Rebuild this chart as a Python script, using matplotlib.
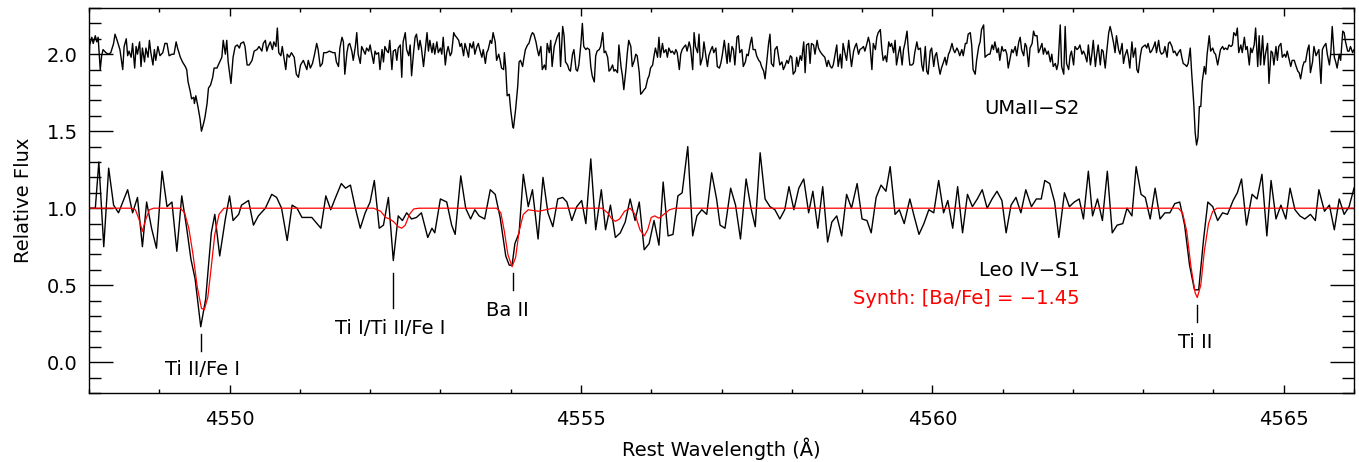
import numpy as np
import matplotlib
matplotlib.use("Agg")
import matplotlib.pyplot as plt

plt.rcParams['font.family'] = ['DejaVu Sans']

# Leo IV-S1 observed spectrum (normalised)
leo_wl = [
    4548.00, 4548.09, 4548.14, 4548.21, 4548.28, 4548.35, 4548.42, 4548.55, 4548.62, 4548.69,
    4548.76, 4548.82, 4548.89, 4548.96, 4549.04, 4549.11, 4549.18, 4549.25, 4549.32, 4549.39,
    4549.45, 4549.51, 4549.59, 4549.66, 4549.74, 4549.79, 4549.86, 4549.94, 4550.00, 4550.05,
    4550.13, 4550.17, 4550.27, 4550.34, 4550.41, 4550.51, 4550.60, 4550.67, 4550.74, 4550.82,
    4550.89, 4550.96, 4551.03, 4551.17, 4551.30, 4551.37, 4551.44, 4551.50, 4551.59, 4551.65,
    4551.72, 4551.79, 4551.86, 4551.93, 4552.00, 4552.06, 4552.13, 4552.19, 4552.26, 4552.33,
    4552.40, 4552.46, 4552.52, 4552.59, 4552.66, 4552.73, 4552.82, 4552.88, 4552.92, 4553.00,
    4553.09, 4553.16, 4553.21, 4553.29, 4553.36, 4553.43, 4553.49, 4553.55, 4553.63, 4553.71,
    4553.78, 4553.85, 4553.93, 4553.98, 4554.02, 4554.06, 4554.12, 4554.18, 4554.25, 4554.31,
    4554.39, 4554.46, 4554.53, 4554.60, 4554.67, 4554.74, 4554.80, 4554.87, 4554.94, 4555.01,
    4555.07, 4555.14, 4555.21, 4555.29, 4555.35, 4555.42, 4555.49, 4555.56, 4555.63, 4555.70,
    4555.77, 4555.83, 4555.90, 4555.97, 4556.04, 4556.11, 4556.17, 4556.24, 4556.31, 4556.38,
    4556.44, 4556.52, 4556.59, 4556.65, 4556.72, 4556.79, 4556.86, 4556.93, 4556.98, 4557.05,
    4557.13, 4557.20, 4557.27, 4557.35, 4557.42, 4557.48, 4557.55, 4557.62, 4557.69, 4557.76,
    4557.83, 4557.90, 4557.96, 4558.03, 4558.10, 4558.17, 4558.24, 4558.30, 4558.37, 4558.44,
    4558.51, 4558.57, 4558.64, 4558.71, 4558.78, 4558.85, 4558.93, 4559.00, 4559.07, 4559.13,
    4559.20, 4559.27, 4559.34, 4559.40, 4559.47, 4559.53, 4559.60, 4559.68, 4559.74, 4559.81,
    4559.88, 4559.95, 4560.02, 4560.09, 4560.16, 4560.22, 4560.29, 4560.36, 4560.43, 4560.50,
    4560.57, 4560.64, 4560.71, 4560.78, 4560.85, 4560.92, 4560.99, 4561.05, 4561.12, 4561.19,
    4561.26, 4561.33, 4561.41, 4561.48, 4561.55, 4561.60, 4561.67, 4561.74, 4561.80, 4561.88,
    4561.95, 4562.02, 4562.09, 4562.15, 4562.22, 4562.28, 4562.35, 4562.42, 4562.49, 4562.56,
    4562.63, 4562.71, 4562.77, 4562.84, 4562.90, 4562.97, 4563.03, 4563.10, 4563.17, 4563.24,
    4563.31, 4563.38, 4563.45, 4563.52, 4563.59, 4563.66, 4563.73, 4563.79, 4563.86, 4563.92,
    4563.99, 4564.06, 4564.13, 4564.20, 4564.28, 4564.34, 4564.40, 4564.47, 4564.55, 4564.62,
    4564.69, 4564.76, 4564.82, 4564.89, 4564.96, 4565.03, 4565.09, 4565.16, 4565.23, 4565.30,
    4565.38, 4565.45, 4565.50, 4565.58, 4565.65, 4565.72, 4565.79, 4565.86, 4565.93, 4566.00]
leo_flux = [
    1.00, 1.00, 1.30, 0.75, 1.26, 1.02, 0.97, 1.12, 0.97, 1.07,
    0.75, 1.04, 0.87, 0.74, 1.24, 1.01, 1.04, 0.72, 1.08, 0.87,
    0.67, 0.54, 0.23, 0.41, 0.84, 0.96, 0.69, 0.93, 1.08, 0.92,
    0.96, 1.02, 1.05, 0.89, 0.95, 1.00, 1.09, 1.07, 1.00, 0.79,
    1.02, 1.00, 0.94, 0.94, 0.87, 1.08, 0.99, 1.06, 1.16, 1.13,
    1.15, 1.00, 0.87, 0.97, 1.04, 1.18, 0.87, 0.89, 1.07, 0.66,
    0.95, 0.92, 0.97, 0.93, 0.94, 0.97, 0.81, 0.87, 0.84, 1.06,
    1.04, 0.89, 0.83, 1.21, 1.00, 0.93, 0.99, 0.95, 0.93, 1.12,
    1.09, 0.94, 0.69, 0.63, 0.63, 0.77, 0.84, 1.22, 1.01, 1.12,
    0.80, 1.20, 0.97, 0.88, 1.06, 1.07, 1.04, 0.92, 1.01, 1.05,
    0.90, 1.32, 0.86, 1.12, 0.86, 1.02, 0.81, 0.84, 0.91, 1.06,
    0.92, 1.04, 0.73, 0.77, 0.92, 0.76, 1.17, 0.82, 0.83, 1.08,
    1.10, 1.40, 0.82, 0.95, 0.99, 0.96, 1.23, 1.06, 0.89, 0.87,
    1.13, 1.02, 0.80, 1.19, 1.00, 0.88, 1.36, 1.06, 1.01, 0.99,
    0.93, 0.99, 1.14, 0.99, 1.13, 1.19, 0.97, 1.11, 0.87, 1.14,
    0.78, 0.91, 0.95, 0.82, 1.09, 1.00, 1.16, 0.93, 0.92, 0.84,
    1.07, 1.15, 1.11, 1.27, 0.96, 0.99, 0.90, 1.06, 0.95, 0.83,
    0.90, 0.99, 0.97, 1.18, 0.97, 1.05, 0.87, 1.14, 0.84, 1.09,
    1.01, 1.06, 1.12, 1.00, 1.06, 1.11, 1.05, 0.84, 1.02, 1.07,
    0.97, 1.12, 1.01, 1.06, 1.06, 1.18, 1.16, 1.04, 0.81, 1.10,
    1.01, 1.04, 1.06, 0.93, 1.24, 0.95, 1.06, 0.92, 1.24, 0.84,
    0.89, 0.90, 1.00, 0.95, 1.27, 1.09, 1.07, 0.93, 1.13, 0.93,
    0.97, 0.97, 1.03, 1.04, 0.89, 0.63, 0.47, 0.47, 0.80, 1.04,
    1.01, 0.92, 0.97, 0.96, 1.05, 1.10, 1.19, 0.89, 1.09, 1.06,
    1.22, 0.82, 1.18, 0.93, 1.02, 0.93, 1.13, 0.99, 0.95, 0.93,
    0.96, 0.92, 1.12, 0.98, 1.02, 0.86, 1.06, 0.96, 1.01, 1.13]

# synthetic spectrum, [Ba/Fe] = -1.45
syn_wl = [
    4548.00, 4548.60, 4548.66, 4548.71, 4548.76, 4548.81, 4548.86, 4548.92,
    4549.30, 4549.36, 4549.42, 4549.48, 4549.54, 4549.60, 4549.64, 4549.69, 4549.74,
    4549.79, 4549.85, 4549.92,
    4552.05, 4552.15, 4552.22, 4552.28, 4552.34, 4552.40, 4552.45, 4552.50, 4552.56,
    4552.62, 4552.70,
    4553.80, 4553.86, 4553.91, 4553.96, 4554.02, 4554.07, 4554.12, 4554.18, 4554.25,
    4554.32, 4554.40, 4554.50, 4554.60,
    4555.30, 4555.38, 4555.44, 4555.49, 4555.55, 4555.62, 4555.70, 4555.77, 4555.84,
    4555.90, 4555.95, 4556.00, 4556.05, 4556.11, 4556.18, 4556.26, 4556.34,
    4563.50, 4563.56, 4563.62, 4563.68, 4563.74, 4563.77, 4563.82, 4563.87, 4563.93,
    4563.99, 4564.05, 4566.00]
syn_flux = [
    1.00, 1.00, 0.99, 0.93, 0.85, 0.93, 0.99, 1.00,
    1.00, 0.97, 0.87, 0.70, 0.49, 0.35, 0.34, 0.42, 0.62,
    0.83, 0.96, 1.00,
    1.00, 0.98, 0.94, 0.93, 0.91, 0.88, 0.87, 0.89, 0.96,
    0.995, 1.00,
    1.00, 0.97, 0.85, 0.70, 0.62, 0.68, 0.85, 0.96, 0.99,
    0.985, 0.98, 0.99, 1.00,
    1.00, 0.97, 0.93, 0.915, 0.93, 0.98, 1.00, 0.96, 0.86,
    0.82, 0.86, 0.94, 0.95, 0.935, 0.96, 0.99, 1.00,
    1.00, 0.97, 0.85, 0.62, 0.45, 0.42, 0.50, 0.72, 0.90,
    0.98, 1.00, 1.00]

# UMaII-S2 observed spectrum (normalised, drawn with an offset)
uma_wl = [
    4548.00, 4548.01, 4548.04, 4548.06, 4548.09, 4548.11, 4548.13, 4548.16, 4548.18, 4548.20,
    4548.24, 4548.28, 4548.31, 4548.35, 4548.37, 4548.40, 4548.44, 4548.48, 4548.50, 4548.53,
    4548.55, 4548.57, 4548.60, 4548.62, 4548.65, 4548.67, 4548.69, 4548.72, 4548.74, 4548.76,
    4548.79, 4548.81, 4548.84, 4548.86, 4548.88, 4548.91, 4548.93, 4548.95, 4548.98, 4549.01,
    4549.05, 4549.08, 4549.11, 4549.14, 4549.18, 4549.21, 4549.24, 4549.26, 4549.30, 4549.33,
    4549.37, 4549.39, 4549.41, 4549.44, 4549.46, 4549.49, 4549.50, 4549.52, 4549.55, 4549.58,
    4549.60, 4549.63, 4549.65, 4549.68, 4549.70, 4549.73, 4549.76, 4549.78, 4549.82, 4549.85,
    4549.89, 4549.91, 4549.94, 4549.96, 4549.98, 4550.02, 4550.05, 4550.08, 4550.11, 4550.14,
    4550.16, 4550.20, 4550.22, 4550.25, 4550.28, 4550.32, 4550.35, 4550.39, 4550.42, 4550.46,
    4550.48, 4550.51, 4550.53, 4550.55, 4550.58, 4550.61, 4550.63, 4550.66, 4550.68, 4550.70,
    4550.73, 4550.75, 4550.78, 4550.80, 4550.82, 4550.85, 4550.88, 4550.92, 4550.95, 4550.98,
    4551.01, 4551.05,
    4551.10, 4551.12, 4551.15, 4551.18, 4551.21, 4551.24, 4551.26, 4551.29, 4551.32, 4551.34,
    4551.38, 4551.42, 4551.47, 4551.50, 4551.52, 4551.55, 4551.57, 4551.60, 4551.62, 4551.64,
    4551.67, 4551.69, 4551.71, 4551.74, 4551.76, 4551.79, 4551.81, 4551.83, 4551.86, 4551.88,
    4551.90, 4551.93, 4551.95, 4551.98, 4552.00, 4552.02, 4552.05, 4552.07, 4552.09, 4552.12,
    4552.14, 4552.17, 4552.19, 4552.21, 4552.24, 4552.26, 4552.28, 4552.31, 4552.33, 4552.36,
    4552.38, 4552.40, 4552.43, 4552.45, 4552.47, 4552.50, 4552.52, 4552.55, 4552.57, 4552.59,
    4552.62, 4552.64, 4552.66, 4552.69, 4552.71, 4552.73, 4552.76, 4552.78, 4552.81, 4552.83,
    4552.85, 4552.88, 4552.90, 4552.92, 4552.95, 4552.97, 4553.00, 4553.02, 4553.04, 4553.07,
    4553.09, 4553.11, 4553.14, 4553.16, 4553.19, 4553.21, 4553.23, 4553.26, 4553.28, 4553.30,
    4553.33, 4553.35, 4553.38, 4553.40, 4553.42, 4553.45, 4553.47, 4553.49, 4553.52, 4553.54,
    4553.56, 4553.59, 4553.61, 4553.64, 4553.66, 4553.68, 4553.71, 4553.73, 4553.75, 4553.78,
    4553.80, 4553.83, 4553.85, 4553.87, 4553.90, 4553.91, 4553.93, 4553.95, 4553.98, 4554.00,
    4554.03, 4554.04,
    4554.07, 4554.10, 4554.12, 4554.14, 4554.17, 4554.19, 4554.21, 4554.24, 4554.26, 4554.29,
    4554.31, 4554.33, 4554.36, 4554.38, 4554.40, 4554.43, 4554.45, 4554.48, 4554.50, 4554.52,
    4554.55, 4554.57, 4554.59, 4554.62, 4554.64, 4554.66, 4554.69, 4554.71, 4554.74, 4554.76,
    4554.78, 4554.81, 4554.83, 4554.85, 4554.88, 4554.90, 4554.93, 4554.95, 4554.97, 4555.00,
    4555.02, 4555.04, 4555.07, 4555.09, 4555.12, 4555.14, 4555.16, 4555.19, 4555.21, 4555.23,
    4555.26, 4555.28, 4555.31, 4555.33, 4555.35, 4555.38, 4555.40, 4555.42, 4555.45, 4555.47,
    4555.49, 4555.52, 4555.54, 4555.57, 4555.59, 4555.61, 4555.64, 4555.66, 4555.68, 4555.71,
    4555.73, 4555.76, 4555.78, 4555.80, 4555.83, 4555.85, 4555.87, 4555.90, 4555.92, 4555.95,
    4555.97, 4555.99, 4556.02, 4556.04, 4556.06, 4556.09, 4556.11, 4556.13, 4556.16, 4556.18,
    4556.21, 4556.23, 4556.25, 4556.28, 4556.30, 4556.33, 4556.35, 4556.37, 4556.40, 4556.42,
    4556.44, 4556.47, 4556.49, 4556.51, 4556.54, 4556.56, 4556.59, 4556.61, 4556.63, 4556.66,
    4556.68, 4556.70, 4556.73, 4556.75, 4556.78, 4556.80, 4556.82, 4556.85, 4556.87, 4556.89,
    4556.92, 4556.94, 4556.97, 4556.99, 4557.01, 4557.04,
    4557.08, 4557.10, 4557.12, 4557.15, 4557.17, 4557.19, 4557.22, 4557.24, 4557.26, 4557.29,
    4557.31, 4557.34, 4557.36, 4557.38, 4557.41, 4557.43, 4557.45, 4557.48, 4557.50, 4557.53,
    4557.55, 4557.57, 4557.60, 4557.62, 4557.64, 4557.67, 4557.69, 4557.71, 4557.74, 4557.76,
    4557.79, 4557.81, 4557.83, 4557.86, 4557.88, 4557.90, 4557.93, 4557.95, 4557.98, 4558.00,
    4558.02, 4558.05, 4558.07, 4558.09, 4558.12, 4558.14, 4558.17, 4558.19, 4558.21, 4558.24,
    4558.26, 4558.28, 4558.31, 4558.33, 4558.36, 4558.38, 4558.40, 4558.43, 4558.45, 4558.47,
    4558.50, 4558.52, 4558.55, 4558.57, 4558.59, 4558.62, 4558.64, 4558.66, 4558.69, 4558.71,
    4558.73, 4558.76, 4558.78, 4558.81, 4558.83, 4558.85, 4558.88, 4558.90, 4558.92, 4558.95,
    4558.97, 4559.00, 4559.02, 4559.04, 4559.07, 4559.09, 4559.11, 4559.14, 4559.16, 4559.19,
    4559.21, 4559.23, 4559.26, 4559.28, 4559.30, 4559.33, 4559.35, 4559.38, 4559.40, 4559.42,
    4559.45, 4559.47, 4559.49, 4559.52, 4559.54, 4559.57, 4559.59, 4559.61, 4559.64, 4559.66,
    4559.68, 4559.71, 4559.73, 4559.75, 4559.78, 4559.80, 4559.83, 4559.85, 4559.87, 4559.90,
    4559.92, 4559.94, 4559.97, 4559.99, 4560.02,
    4560.04, 4560.06, 4560.09, 4560.11, 4560.13, 4560.16, 4560.18, 4560.20, 4560.23, 4560.25,
    4560.28, 4560.30, 4560.32, 4560.35, 4560.37, 4560.39, 4560.42, 4560.44, 4560.47, 4560.49,
    4560.51, 4560.54, 4560.56, 4560.58, 4560.61, 4560.63, 4560.66, 4560.68, 4560.70, 4560.73,
    4560.75, 4560.77, 4560.80, 4560.82, 4560.85, 4560.87, 4560.89, 4560.92, 4560.94, 4560.96,
    4560.99, 4561.01, 4561.04, 4561.06, 4561.08, 4561.11, 4561.13, 4561.15, 4561.18, 4561.20,
    4561.23, 4561.25, 4561.27, 4561.30, 4561.32, 4561.34, 4561.37, 4561.39, 4561.42, 4561.44,
    4561.46, 4561.49, 4561.51, 4561.53, 4561.56, 4561.58, 4561.60, 4561.63, 4561.65, 4561.68,
    4561.70, 4561.72, 4561.75, 4561.77, 4561.79, 4561.82, 4561.84, 4561.87, 4561.89, 4561.91,
    4561.94, 4561.96, 4561.98, 4562.01, 4562.03, 4562.06, 4562.08, 4562.10, 4562.13, 4562.15,
    4562.17, 4562.20, 4562.22, 4562.25, 4562.27, 4562.29, 4562.32, 4562.34, 4562.36, 4562.39,
    4562.41, 4562.43, 4562.46, 4562.48, 4562.51, 4562.53, 4562.55, 4562.58, 4562.60, 4562.62,
    4562.65, 4562.67, 4562.70, 4562.72, 4562.74, 4562.77, 4562.79, 4562.81, 4562.84, 4562.86,
    4562.89, 4562.91, 4562.93, 4562.96, 4562.98, 4563.00,
    4563.03, 4563.05, 4563.07, 4563.10, 4563.12, 4563.15, 4563.17, 4563.19, 4563.22, 4563.24,
    4563.26, 4563.29, 4563.31, 4563.34, 4563.36, 4563.38, 4563.41, 4563.43, 4563.45, 4563.48,
    4563.50, 4563.53, 4563.55, 4563.57, 4563.60, 4563.62, 4563.64, 4563.67, 4563.69, 4563.72,
    4563.74, 4563.76, 4563.78, 4563.80, 4563.82, 4563.84, 4563.87, 4563.89, 4563.91, 4563.94,
    4563.96, 4563.99, 4564.01, 4564.03, 4564.06, 4564.08, 4564.10, 4564.13, 4564.15, 4564.17,
    4564.20, 4564.22, 4564.25, 4564.27, 4564.29, 4564.32, 4564.34, 4564.36, 4564.39, 4564.41,
    4564.44, 4564.46, 4564.48, 4564.51, 4564.53, 4564.55, 4564.58, 4564.60, 4564.63, 4564.65,
    4564.67, 4564.70, 4564.72, 4564.74, 4564.77, 4564.79, 4564.82, 4564.84, 4564.86, 4564.89,
    4564.91, 4564.93, 4564.96, 4564.98, 4565.01, 4565.03, 4565.05, 4565.08, 4565.10, 4565.12,
    4565.15, 4565.17, 4565.20, 4565.22, 4565.24, 4565.27, 4565.29, 4565.31, 4565.34, 4565.36,
    4565.38, 4565.41, 4565.43, 4565.46, 4565.48, 4565.50, 4565.53, 4565.55, 4565.57, 4565.60,
    4565.62, 4565.65, 4565.67, 4565.69, 4565.72, 4565.74, 4565.76, 4565.79, 4565.81, 4565.84,
    4565.86, 4565.88, 4565.91, 4565.93, 4565.95, 4565.98, 4566.00]
uma_flux = [
    0.95, 1.06, 1.11, 1.07, 1.12, 1.08, 1.11, 0.90, 0.99, 1.03,
    1.01, 1.00, 1.01, 1.07, 1.13, 1.09, 1.03, 0.90, 1.05, 1.10,
    0.99, 1.02, 0.98, 1.07, 0.91, 1.05, 1.00, 1.08, 0.92, 1.04,
    0.95, 1.04, 0.98, 1.09, 1.01, 0.93, 1.03, 0.96, 1.05, 0.99,
    1.01, 1.07, 1.07, 0.99, 1.00, 1.00, 1.08, 1.04, 0.98, 0.95,
    0.92, 0.90, 0.82, 0.76, 0.71, 0.72, 0.68, 0.73, 0.66, 0.58,
    0.50, 0.55, 0.59, 0.68, 0.78, 0.80, 0.85, 0.91, 0.91, 0.94,
    0.98, 1.09, 1.00, 1.09, 0.95, 0.81, 0.98, 1.05, 1.06, 1.04,
    1.07, 1.08, 1.05, 0.93, 0.93, 0.96, 1.02, 1.03, 1.05, 1.02,
    1.07, 1.09, 1.02, 1.05, 1.08, 1.03, 1.08, 1.05, 1.17, 1.01,
    0.99, 1.05, 0.96, 0.90, 1.00, 0.98, 1.01, 0.98, 0.87, 0.85,
    0.93, 0.96,
    0.90, 0.96, 0.91, 0.94, 1.00, 1.07, 1.03, 0.92, 0.94, 1.01,
    1.01, 1.02, 1.01, 1.01, 0.95, 0.92, 1.04, 1.11, 1.08, 0.87,
    1.01, 1.06, 1.07, 1.02, 0.96, 1.05, 1.14, 1.00, 0.94, 1.05,
    1.03, 1.00, 1.04, 1.02, 1.06, 1.01, 0.94, 1.02, 1.00, 1.01,
    0.90, 1.03, 0.95, 1.05, 1.02, 1.01, 1.09, 0.90, 1.02, 1.03,
    0.96, 1.04, 1.06, 0.85, 1.08, 1.14, 1.03, 0.99, 1.06, 0.86,
    1.02, 1.11, 1.13, 1.03, 1.09, 1.04, 0.92, 1.01, 1.14, 1.02,
    1.09, 1.01, 1.07, 1.00, 1.08, 1.01, 1.04, 1.00, 1.11, 0.93,
    1.01, 1.05, 0.99, 1.01, 1.14, 1.12, 1.11, 1.09, 1.05, 1.07,
    0.99, 1.07, 1.02, 0.98, 1.07, 1.04, 1.08, 1.00, 1.05, 1.07,
    1.03, 0.98, 1.03, 0.94, 1.01, 1.03, 1.09, 1.07, 1.14, 1.08,
    0.96, 1.00, 0.96, 0.91, 0.90, 1.01, 0.91, 0.73, 0.74, 0.64,
    0.53, 0.52,
    0.64, 0.79, 0.95, 0.96, 0.92, 0.98, 1.03, 1.06, 1.07, 1.12,
    1.14, 1.13, 1.08, 1.03, 0.99, 1.05, 0.90, 0.93, 0.90, 1.07,
    1.01, 1.09, 0.92, 1.05, 1.08, 1.11, 1.14, 0.92, 1.18, 1.12,
    0.95, 0.93, 0.90, 0.89, 1.00, 1.03, 0.90, 0.89, 0.93, 1.07,
    1.20, 1.05, 1.03, 1.04, 1.03, 0.92, 0.86, 0.82, 0.99, 1.02,
    1.03, 1.05, 1.14, 1.01, 1.02, 0.98, 0.89, 0.90, 0.93, 0.89,
    0.90, 0.88, 1.06, 0.92, 0.86, 0.77, 0.90, 1.01, 1.09, 1.05,
    0.92, 0.96, 1.00, 0.99, 0.88, 0.74, 0.75, 0.77, 0.78, 0.84,
    0.86, 0.91, 0.93, 0.99, 1.04, 0.98, 1.11, 0.98, 1.07, 1.01,
    1.03, 0.98, 1.04, 1.01, 1.02, 1.00, 1.03, 1.01, 0.90, 1.00,
    1.03, 1.05, 1.06, 1.02, 1.08, 1.04, 0.90, 1.14, 1.05, 1.01,
    1.13, 0.93, 0.98, 1.08, 0.98, 0.92, 0.99, 1.03, 1.05, 1.01,
    1.04, 0.92, 0.91, 0.94, 0.99, 1.09,
    0.94, 1.07, 0.95, 1.05, 1.03, 0.93, 1.11, 1.12, 1.01, 1.03,
    0.92, 0.95, 1.00, 0.99, 1.07, 1.11, 1.03, 1.03, 0.99, 0.96,
    0.95, 0.92, 0.89, 0.84, 0.93, 1.07, 1.13, 0.94, 0.92, 1.03,
    1.05, 0.99, 0.93, 0.95, 0.90, 0.92, 0.96, 0.94, 0.99, 0.98,
    0.87, 0.89, 0.98, 0.92, 0.99, 0.96, 1.08, 0.88, 1.06, 1.07,
    0.94, 1.07, 1.06, 1.00, 1.09, 1.04, 1.02, 1.00, 0.99, 0.98,
    0.92, 0.96, 0.92, 0.91, 0.93, 1.01, 1.06, 0.92, 1.00, 0.91,
    1.07, 1.00, 0.96, 1.09, 1.00, 0.92, 1.02, 1.05, 1.07, 1.00,
    1.03, 1.04, 1.05, 1.02, 1.07, 1.11, 1.07, 0.90, 1.07, 1.03,
    1.11, 1.14, 1.16, 1.04, 0.96, 0.99, 0.95, 1.08, 1.05, 1.07,
    1.01, 1.09, 0.93, 1.01, 1.05, 0.93, 1.03, 1.07, 1.15, 1.02,
    0.93, 0.93, 0.94, 1.01, 1.08, 1.03, 1.04, 0.93, 0.89, 1.05,
    0.89, 0.87, 1.02, 1.04, 0.92,
    0.99, 1.01, 0.92, 0.87, 0.91, 0.95, 0.98, 0.93, 1.00, 1.02,
    1.07, 1.03, 1.01, 1.04, 1.02, 0.99, 1.03, 0.99, 1.07, 1.07,
    1.13, 1.14, 1.06, 0.90, 0.87, 0.96, 1.05, 1.08, 1.16, 1.19,
    0.98, 0.99, 1.00, 1.00, 1.06, 1.03, 1.08, 1.01, 1.04, 0.96,
    1.05, 1.02, 1.03, 1.00, 0.91, 0.98, 1.03, 1.01, 1.05, 0.99,
    1.08, 1.11, 1.03, 0.99, 1.07, 1.05, 0.92, 1.04, 1.07, 1.15,
    1.12, 1.12, 1.01, 1.03, 1.07, 1.00, 1.04, 1.00, 1.02, 0.95,
    1.00, 0.92, 0.94, 0.90, 0.94, 1.19, 0.92, 0.87, 1.18, 0.94,
    0.90, 0.99, 1.02, 0.93, 1.05, 1.03, 1.04, 1.06, 1.00, 1.02,
    1.00, 0.95, 1.06, 0.93, 1.00, 1.09, 0.92, 1.00, 1.06, 0.93,
    1.03, 1.02, 0.91, 1.01, 1.14, 1.18, 1.14, 1.07, 1.01, 1.12,
    1.03, 1.00, 1.07, 0.94, 0.99, 1.03, 0.98, 0.91, 1.08, 0.98,
    1.04, 0.90, 0.88, 0.99, 1.04, 1.05,
    1.06, 1.04, 1.07, 1.01, 1.02, 1.05, 1.08, 1.01, 1.09, 1.02,
    1.00, 1.01, 1.05, 0.98, 1.07, 1.08, 1.05, 1.01, 1.02, 0.99,
    1.01, 1.03, 0.98, 0.94, 0.93, 0.92, 0.94, 1.04, 0.88, 0.68,
    0.49, 0.41, 0.46, 0.66, 0.66, 0.82, 0.92, 0.87, 1.00, 1.12,
    1.02, 1.04, 1.01, 1.00, 0.93, 0.98, 1.03, 1.05, 1.03, 1.04,
    1.03, 1.06, 1.05, 1.06, 1.14, 1.12, 1.17, 1.01, 1.06, 1.01,
    1.11, 1.03, 1.05, 0.93, 1.04, 1.01, 1.06, 1.17, 0.92, 1.12,
    0.93, 1.12, 0.93, 1.00, 1.07, 0.81, 1.02, 1.01, 0.93, 1.05,
    0.96, 1.05, 1.07, 0.98, 1.00, 0.98, 1.02, 0.96, 0.92, 0.96,
    0.96, 0.93, 0.89, 0.88, 0.84, 0.92, 0.95, 0.95, 1.03, 1.06,
    0.88, 0.95, 1.05, 0.99, 1.01, 1.03, 0.81, 1.03, 1.05, 1.07,
    1.00, 0.93, 1.01, 1.18, 0.98, 0.95, 0.91, 1.00, 0.96, 1.15,
    1.14, 1.08, 1.02, 1.02, 1.05, 1.01, 1.03]
uma_offset = 1.0

# line identifications: (label, wavelength, tick bottom, tick top, text baseline)
line_ids = ["Ti II/Fe I", "Ti I/Ti II/Fe I", "Ba II", "Ti II"]
line_wl = [4549.59, 4552.32, 4554.04, 4563.77]
tick_lo = [0.07, 0.35, 0.47, 0.26]
tick_hi = [0.18, 0.58, 0.58, 0.37]
text_wl = [4549.62, 4552.28, 4553.96, 4563.74]
text_y = [-0.085, 0.185, 0.30, 0.095]

fig = plt.figure(figsize=(13.59, 4.62), dpi=100)
ax = fig.add_axes([89 / 1359, 1 - 393 / 462, 1265 / 1359, 385 / 462])

ax.plot(uma_wl, np.array(uma_flux) + uma_offset, color='black', lw=1.0)
ax.plot(leo_wl, leo_flux, color='black', lw=1.0)
ax.plot(syn_wl, syn_flux, color='red', lw=0.9)

for lab, w, lo, hi, tw, ty in zip(line_ids, line_wl, tick_lo, tick_hi, text_wl, text_y):
    ax.plot([w, w], [lo, hi], color='black', lw=1.0)
    ax.text(tw, ty, lab, ha='center', va='baseline', fontsize=14)

ax.text(4562.10, 1.612, "UMaII\u2212S2", ha='right', va='baseline', fontsize=14)
ax.text(4562.10, 0.56, "Leo IV\u2212S1", ha='right', va='baseline', fontsize=14)
ax.text(4562.10, 0.376, "Synth: [Ba/Fe] = \u22121.45", ha='right', va='baseline',
        fontsize=14, color='red')

ax.set_xlim(4548, 4566)
ax.set_ylim(-0.2, 2.3)
ax.set_xticks([4550, 4555, 4560, 4565])
ax.set_xticks(np.arange(4548, 4567, 1), minor=True)
ax.set_yticks([0.0, 0.5, 1.0, 1.5, 2.0])
ax.set_yticks(np.arange(-0.2, 2.31, 0.1), minor=True)
ax.yaxis.set_major_formatter(matplotlib.ticker.FormatStrFormatter('%.1f'))

ax.tick_params(axis='both', which='both', direction='in', top=True, right=True,
               labelsize=14, width=1.0)
ax.tick_params(axis='x', which='major', length=6, pad=12)
ax.tick_params(axis='x', which='minor', length=3)
ax.tick_params(axis='y', which='major', length=17, pad=8)
ax.tick_params(axis='y', which='minor', length=8.5)
for s in ax.spines.values():
    s.set_linewidth(1.0)

ax.set_xlabel("Rest Wavelength (\u00c5)", fontsize=14, labelpad=6)
ax.set_ylabel("Relative Flux", fontsize=14, labelpad=10)

fig.savefig("out.png", dpi=100)
